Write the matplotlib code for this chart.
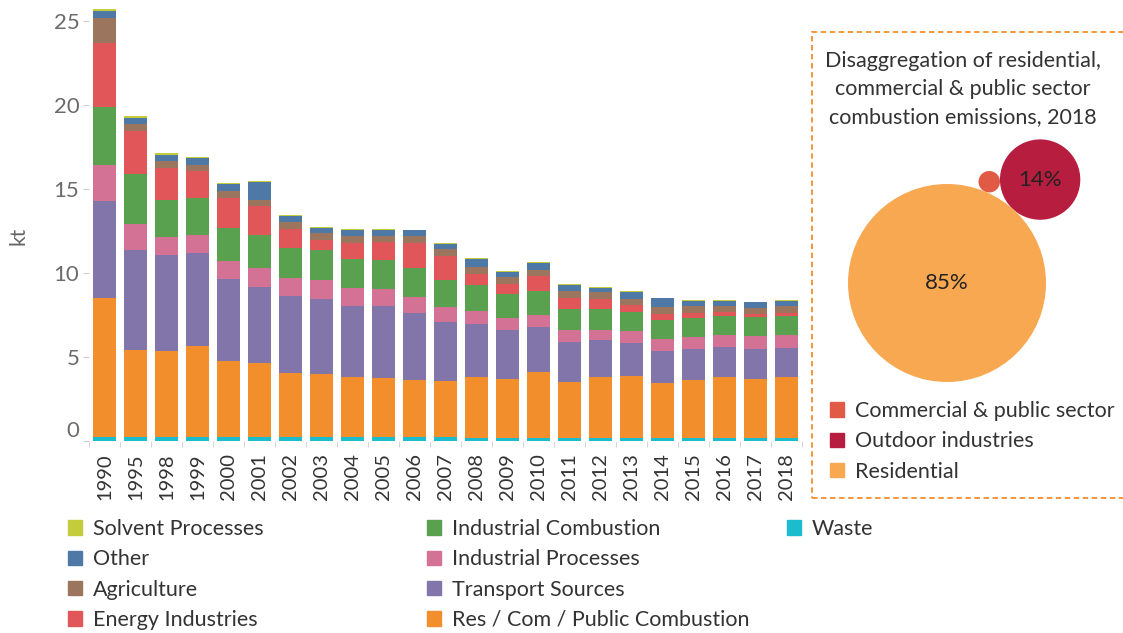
import matplotlib as mpl
mpl.use('Agg')
import matplotlib.pyplot as plt
from matplotlib.patches import Patch, Rectangle, Circle
import numpy as np

plt.rcParams['font.family'] = ['Lato', 'DejaVu Sans']

W, H = 1123, 633

# ---- data (kt) ----
years = ['1990', '1995', '1998', '1999', '2000', '2001', '2002', '2003', '2004', '2005', '2006',
         '2007', '2008', '2009', '2010', '2011', '2012', '2013', '2014', '2015', '2016', '2017', '2018']

waste = [0.22, 0.22, 0.22, 0.22, 0.22, 0.22, 0.22, 0.22, 0.22, 0.22, 0.22, 0.22,
         0.16, 0.16, 0.16, 0.16, 0.16, 0.16, 0.16, 0.16, 0.16, 0.16, 0.16]
res_com_pub = [8.31, 5.22, 5.14, 5.45, 4.54, 4.42, 3.83, 3.79, 3.59, 3.55, 3.43, 3.35,
               3.65, 3.53, 3.97, 3.37, 3.65, 3.73, 3.29, 3.49, 3.65, 3.53, 3.65]
transport = [5.76, 5.95, 5.71, 5.52, 4.88, 4.53, 4.60, 4.44, 4.24, 4.28, 3.97, 3.53,
             3.17, 2.94, 2.66, 2.38, 2.22, 1.94, 1.91, 1.83, 1.79, 1.79, 1.75]
ind_processes = [2.14, 1.55, 1.07, 1.07, 1.07, 1.15, 1.07, 1.15, 1.08, 1.00, 0.95, 0.88,
                 0.76, 0.71, 0.71, 0.72, 0.60, 0.72, 0.71, 0.71, 0.71, 0.79, 0.75]
ind_combustion = [3.45, 2.97, 2.23, 2.22, 1.99, 1.94, 1.79, 1.79, 1.70, 1.74, 1.75, 1.62,
                  1.55, 1.43, 1.43, 1.23, 1.23, 1.15, 1.15, 1.15, 1.15, 1.11, 1.15]
energy = [3.81, 2.54, 1.90, 1.59, 1.78, 1.75, 1.11, 0.59, 0.96, 1.08, 1.47, 1.43,
          0.67, 0.59, 0.91, 0.67, 0.59, 0.40, 0.36, 0.28, 0.24, 0.20, 0.16]
agriculture = [1.51, 0.44, 0.40, 0.36, 0.40, 0.36, 0.44, 0.40, 0.43, 0.35, 0.43, 0.40,
               0.40, 0.40, 0.36, 0.40, 0.44, 0.35, 0.40, 0.43, 0.35, 0.36, 0.43]
other = [0.40, 0.36, 0.35, 0.44, 0.44, 1.07, 0.35, 0.32, 0.36, 0.36, 0.32, 0.32,
         0.47, 0.32, 0.40, 0.36, 0.24, 0.44, 0.51, 0.28, 0.28, 0.31, 0.28]
solvent = [0.10, 0.12, 0.12, 0.04, 0.04, 0.04, 0.04, 0.04, 0.04, 0.04, 0.04, 0.04,
           0.04, 0.04, 0.04, 0.04, 0.04, 0.04, 0.04, 0.04, 0.04, 0.04, 0.04]

series_names = ['Waste', 'Res / Com / Public Combustion', 'Transport Sources', 'Industrial Processes',
                'Industrial Combustion', 'Energy Industries', 'Agriculture', 'Other', 'Solvent Processes']
series_vals = [waste, res_com_pub, transport, ind_processes, ind_combustion, energy,
               agriculture, other, solvent]
series_cols = ['#1BBCCD', '#F28E2B', '#8175AA', '#D37295', '#59A14F', '#E15759',
               '#9C755F', '#4E79A7', '#C5CC3B']

# 2018 breakdown of residential / commercial / public combustion (%)
sector_names = ['Commercial & public sector', 'Outdoor industries', 'Residential']
sector_share = [1, 14, 85]
sector_cols = ['#E15A45', '#B71D3E', '#F9A852']

# ---- figure ----
fig = plt.figure(figsize=(W / 100, H / 100), dpi=100)
ax = fig.add_axes([89 / W, (H - 441) / H, 713 / W, 26 * 16.8 / H])

x = np.arange(len(years))
bottom = np.zeros(len(years))
for name, vals, col in zip(series_names, series_vals, series_cols):
    ax.bar(x, vals, 0.74, bottom=bottom, color=col, label=name, linewidth=0)
    bottom += np.array(vals)

ax.set_xlim(-0.5, len(years) - 0.5)
ax.set_ylim(0, 26)
for s in ax.spines.values():
    s.set_visible(False)

ax.set_yticks([0, 5, 10, 15, 20, 25])
ax.tick_params(axis='y', length=4, color='#d0d0d0', labelsize=16, labelcolor='#6b6b6b', pad=3)
ax.get_yticklabels()[0].set_verticalalignment('bottom')

ax.set_xticks(x)
ax.set_xticklabels(years, rotation=90, fontsize=14.5, color='#333333')
ax.set_xticks(np.arange(len(years) + 1) - 0.5, minor=True)
ax.tick_params(axis='x', which='major', length=0, pad=9)
ax.tick_params(axis='x', which='minor', length=4, color='#d0d0d0')

fig.text(18 / W, 1 - 236 / H, 'kt', rotation=90, ha='center', va='center',
         fontsize=15, color='#666666')

# ---- bottom legend, three columns ----
col_groups = [['Solvent Processes', 'Other', 'Agriculture', 'Energy Industries'],
              ['Industrial Combustion', 'Industrial Processes', 'Transport Sources',
               'Res / Com / Public Combustion'],
              ['Waste']]
col_x = [68, 427, 787]
cmap = dict(zip(series_names, series_cols))
leg_kw = dict(loc='upper left', frameon=False, fontsize=15.5, handlelength=0.65, handleheight=0.65,
              handletextpad=0.5, labelspacing=0.48, borderpad=0, borderaxespad=0,
              labelcolor='#333333')
for grp, cx in zip(col_groups, col_x):
    handles = [Patch(color=cmap[n], label=n) for n in grp]
    fig.legend(handles=handles, bbox_to_anchor=(cx / W, 1 - 519 / H), **leg_kw)

# ---- right panel ----
box = Rectangle((812 / W, (H - 498) / H), (1140 - 812) / W, (498 - 32) / H,
                transform=fig.transFigure, fill=False, edgecolor='#F28E2B',
                linewidth=1.3, linestyle=(0, (3, 2)))
fig.add_artist(box)

fig.text(963 / W, 1 - 89 / H,
         'Disaggregation of residential,\ncommercial & public sector\ncombustion emissions, 2018',
         ha='center', va='center', fontsize=15.5, color='#333333', linespacing=1.5)

ax2 = fig.add_axes([812 / W, (H - 400) / H, 310 / W, 270 / H])
ax2.set_xlim(812, 1122)
ax2.set_ylim(400, 130)
ax2.axis('off')

# simple bubble packing: big bubble, second tangent to it, third tangent to both
k = 99 / np.sqrt(85)
r = {n: k * np.sqrt(v) for n, v in zip(sector_names, sector_share)}
c_res = np.array([947.0, 283.0])
theta = np.deg2rad(-48)
u = np.array([np.cos(theta), np.sin(theta)])
c_out = c_res + (r['Residential'] + r['Outdoor industries']) * u
d = r['Residential'] + r['Outdoor industries']
d1 = r['Residential'] + r['Commercial & public sector']
d2 = r['Outdoor industries'] + r['Commercial & public sector']
a = (d1 ** 2 - d2 ** 2 + d ** 2) / (2 * d)
h = np.sqrt(d1 ** 2 - a ** 2)
c_com = c_res + a * u + h * np.array([u[1], -u[0]])
centers = {'Residential': c_res, 'Outdoor industries': c_out, 'Commercial & public sector': c_com}

for n, v, col in zip(sector_names, sector_share, sector_cols):
    ax2.add_patch(Circle(centers[n], r[n], color=col, linewidth=0))
    if v >= 10:
        ax2.text(*centers[n], f'{v}%', ha='center', va='center', fontsize=16, color='#222222')

handles = [Patch(color=c, label=n) for n, c in zip(sector_names, sector_cols)]
fig.legend(handles=handles, bbox_to_anchor=(830 / W, 1 - 401 / H), **leg_kw)

fig.savefig('out.png', dpi=100)
